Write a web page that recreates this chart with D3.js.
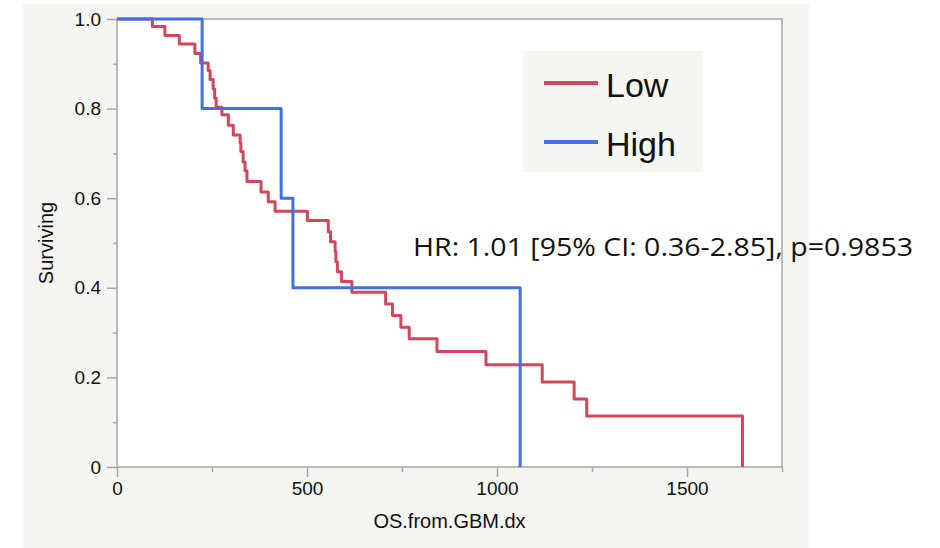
<!doctype html>
<html>
<head>
<meta charset="utf-8">
<script src="https://d3js.org/d3.v7.min.js"></script>
<style>
body { margin: 0; background: #fff; }
svg text { font-family: 'Liberation Sans', Arial, sans-serif; }
</style>
</head>
<body>
<script>
// survival steps (time in days, surviving fraction after the drop)
var lowTimes = [93,126,164,205,220,240,245,253,257,261,276,293,306,324,326,332,337,342,379,398,416,501,556,562,574,576,580,591,618,707,725,747,769,842,971,1119,1203,1236,1646];
var lowSurv = [0.983,0.963,0.944,0.923,0.902,0.885,0.865,0.844,0.823,0.803,0.786,0.763,0.741,0.723,0.704,0.681,0.661,0.637,0.614,0.592,0.571,0.550,0.525,0.503,0.481,0.458,0.436,0.414,0.390,0.364,0.338,0.312,0.286,0.258,0.228,0.190,0.152,0.114,0];
var highTimes = [224,432,463,1061];
var highSurv = [0.8,0.6,0.4,0];
var groups = ['Low','High'];
var xTicks = [0,500,1000,1500];
var xMinorTicks = [250,750,1250,1750];
var yTicks = [0,0.2,0.4,0.6,0.8,1.0];
var yMinorTicks = [0.1,0.3,0.5,0.7,0.9];
var hrText = 'HR: 1.01 [95% CI: 0.36-2.85], p=0.9853';

var colors = {Low: '#d4465a', High: '#4170e0'};
var pLeft = 117, pRight = 782, pTop = 19, pBottom = 467;

var svg = d3.select('body').append('svg').attr('width', 940).attr('height', 548);

// grey panel behind the chart, white plot area
svg.append('rect').attr('x', 23).attr('y', 4).attr('width', 786).attr('height', 544).style('fill', '#f5f5f1');
svg.append('rect').attr('x', pLeft).attr('y', pTop).attr('width', pRight - pLeft).attr('height', pBottom - pTop).style('fill', '#fff');

var xScale = d3.scaleLinear().domain([0, 1750]).range([pLeft, pRight]);
var yScale = d3.scaleLinear().domain([0, 1]).range([pBottom, pTop]);

function styleAxis(g) {
	g.select('.domain').remove();
	g.selectAll('.tick line').style('stroke', '#a6a6a6').style('stroke-width', 1.5);
	g.selectAll('.tick text').style('font-size', '19px').style('fill', '#111');
}

var yAxis = d3.axisLeft(yScale).tickValues(yTicks).tickSize(10).tickPadding(6)
	.tickFormat(function(d){ return d == 0 ? '0' : d3.format('.1f')(d); });
svg.append('g').attr('transform', 'translate(' + pLeft + ',0)').call(yAxis).call(styleAxis);
svg.append('g').attr('transform', 'translate(' + pLeft + ',0)')
	.call(d3.axisLeft(yScale).tickValues(yMinorTicks).tickSize(4).tickFormat('')).call(styleAxis);

var xAxis = d3.axisBottom(xScale).tickValues(xTicks).tickSize(10).tickPadding(5).tickFormat(d3.format('d'));
svg.append('g').attr('transform', 'translate(0,' + pBottom + ')').call(xAxis).call(styleAxis);
svg.append('g').attr('transform', 'translate(0,' + pBottom + ')')
	.call(d3.axisBottom(xScale).tickValues(xMinorTicks).tickSize(5).tickFormat('')).call(styleAxis);

// frame
svg.append('rect').attr('x', pLeft).attr('y', pTop).attr('width', pRight - pLeft).attr('height', pBottom - pTop)
	.style('fill', 'none').style('stroke', '#a6a6a6').style('stroke-width', 1.5);

// axis titles
svg.append('text').attr('x', (pLeft + pRight) / 2).attr('y', 528).attr('text-anchor', 'middle')
	.style('font-size', '20px').style('fill', '#111').text('OS.from.GBM.dx');
svg.append('text').attr('transform', 'translate(53,' + ((pTop + pBottom) / 2) + ') rotate(-90)')
	.attr('text-anchor', 'middle').style('font-size', '20px').style('fill', '#111').text('Surviving');

// Kaplan-Meier curves
function toSteps(times, surv) {
	var pts = [{t: 0, s: 1}];
	for (var i = 0; i < times.length; i++) pts.push({t: times[i], s: surv[i]});
	return pts;
}
var line = d3.line().curve(d3.curveStepAfter)
	.x(function(d){ return xScale(d.t); })
	.y(function(d){ return yScale(d.s); });

var series = {Low: toSteps(lowTimes, lowSurv), High: toSteps(highTimes, highSurv)};
groups.forEach(function(g) {
	svg.append('path').attr('d', line(series[g]))
		.style('fill', 'none').style('stroke', colors[g]).style('stroke-width', 3)
		.style('stroke-linejoin', 'round');
});

// legend
var legend = svg.append('g');
legend.append('rect').attr('x', 523).attr('y', 51).attr('width', 180).attr('height', 121).style('fill', '#f5f5f1');
var legendY = d3.scalePoint().domain(groups).range([83, 142]);
groups.forEach(function(g) {
	legend.append('line').attr('x1', 544).attr('x2', 598).attr('y1', legendY(g)).attr('y2', legendY(g))
		.style('stroke', colors[g]).style('stroke-width', 4);
	legend.append('text').attr('x', 606).attr('y', legendY(g) + 14)
		.style('font-size', '34px').style('fill', '#111').text(g);
});

// hazard ratio annotation
svg.append('text').attr('x', 413).attr('y', 256)
	.attr('textLength', 500).attr('lengthAdjust', 'spacingAndGlyphs')
	.style('font-family', "'Open Sans', sans-serif").style('font-size', '25px').style('fill', '#111')
	.text(hrText);
</script>
</body>
</html>
